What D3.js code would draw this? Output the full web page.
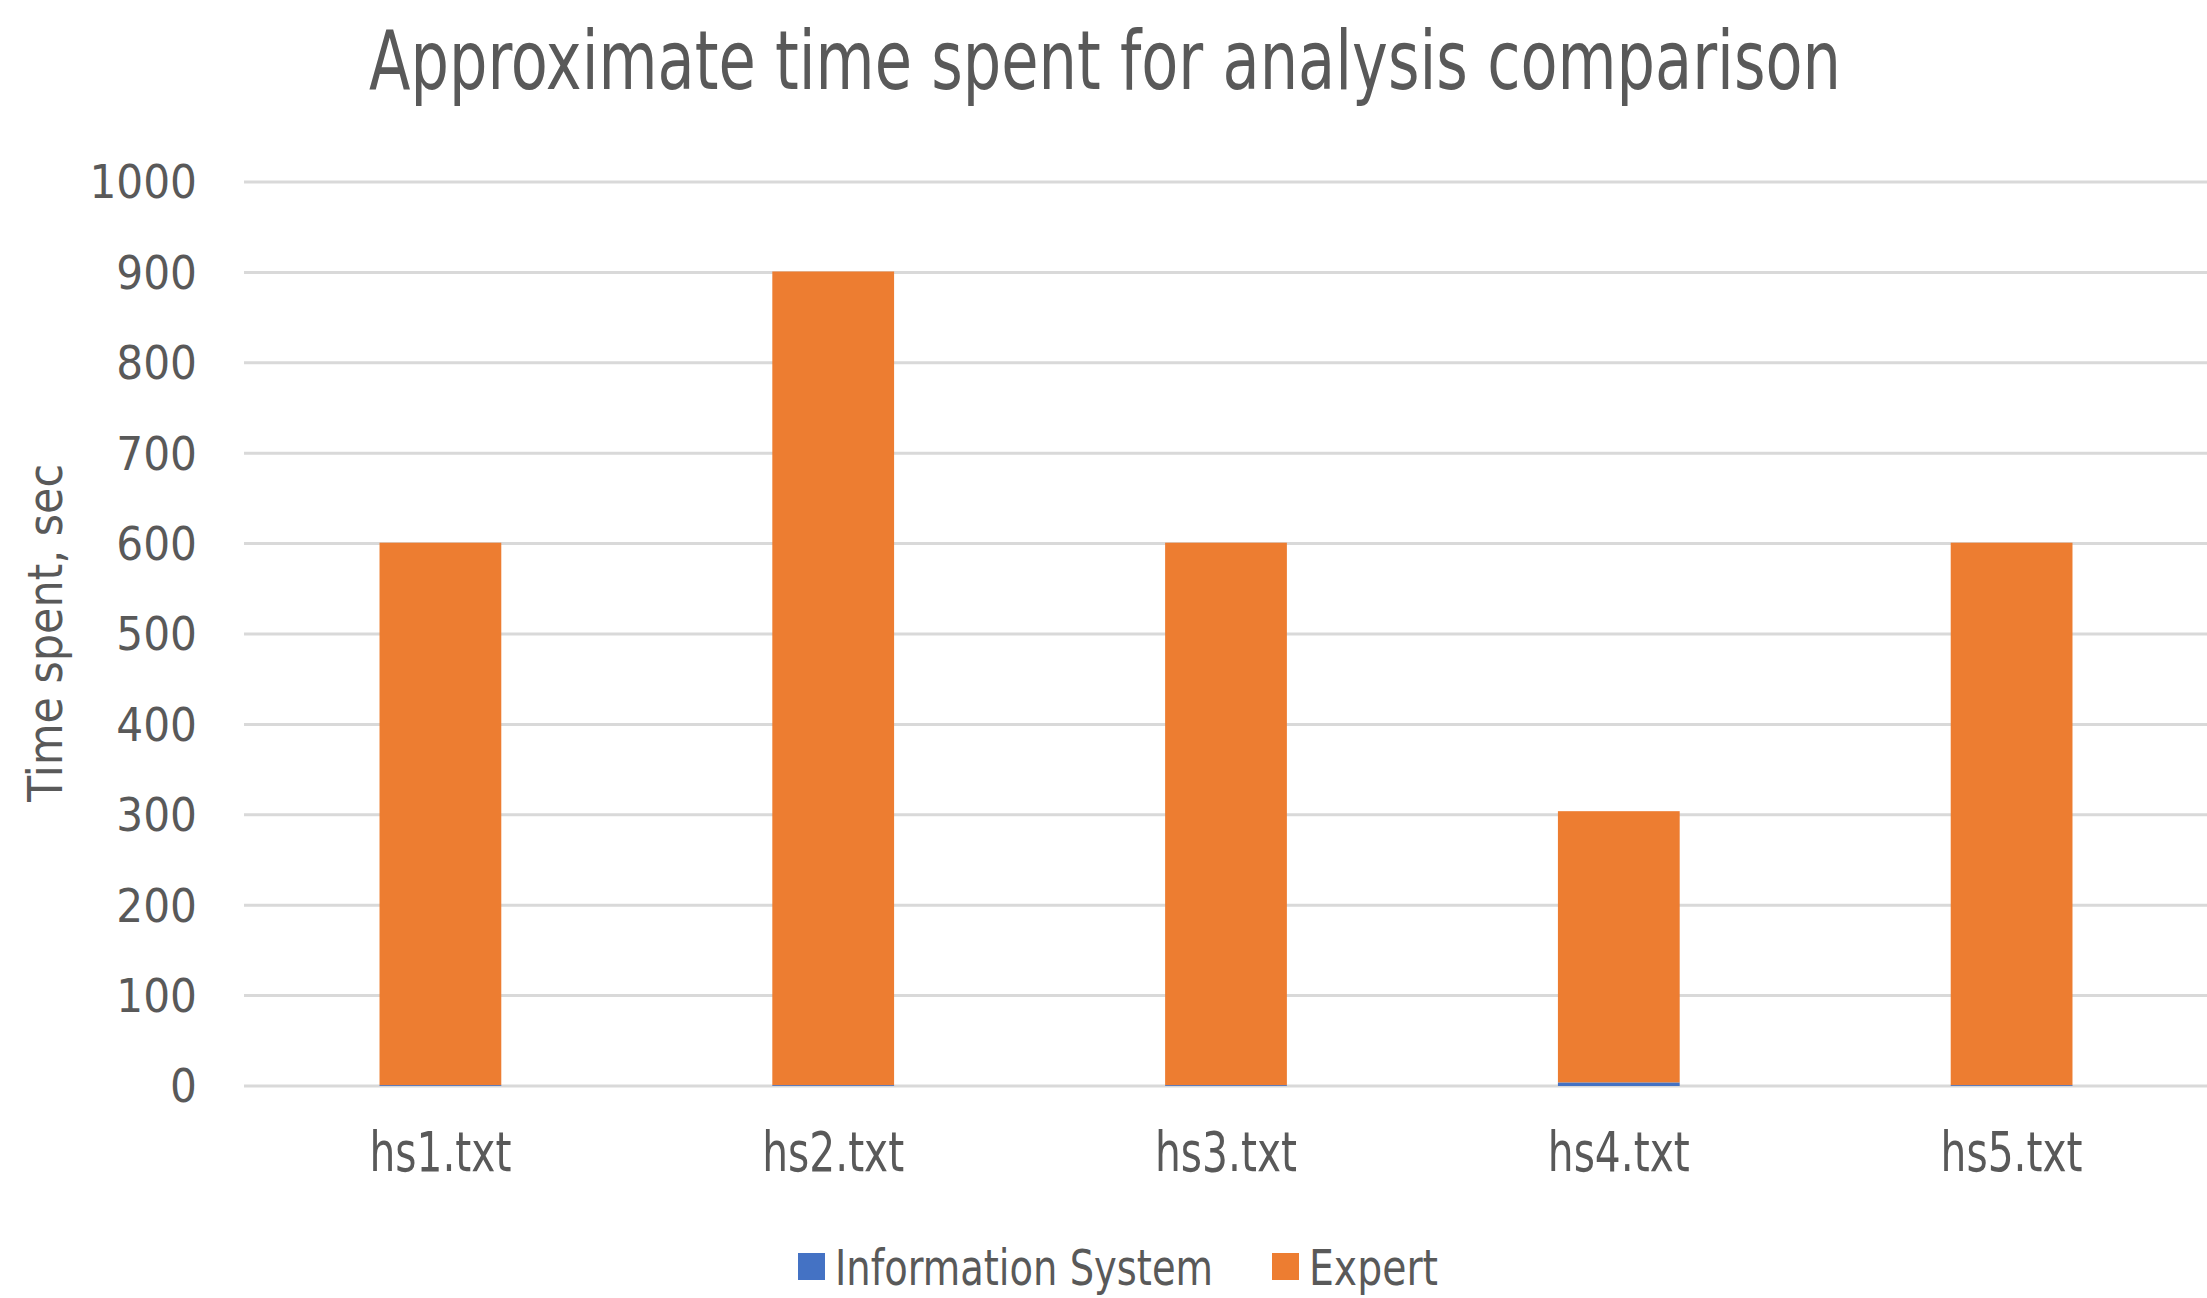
<!DOCTYPE html>
<html lang="en">
  <head>
    <meta charset="UTF-8" />
    <title>Approximate time spent for analysis comparison</title>
    <style>
      body { margin: 0; background: #fff; }
      text { font-family: "Liberation Sans Narrow", "DejaVu Sans Condensed", sans-serif; fill: #595959; }
    </style>
  </head>
  <body>
    <svg id="svg" width="2207" height="1298"></svg>

    <script src="https://cdn.jsdelivr.net/npm/d3@7"></script>
    <script>
      const WIDTH = 2207;
      const HEIGHT = 1298;

      const FILES = ["hs1.txt", "hs2.txt", "hs3.txt", "hs4.txt", "hs5.txt"];
      const INFO_SYSTEM = [1, 1, 1, 4, 1];
      const EXPERT = [600, 900, 600, 300, 600];
      const Y_TICKS = [0, 100, 200, 300, 400, 500, 600, 700, 800, 900, 1000];
      const SERIES = ["Information System", "Expert"];
      const COLORS = ["#4472C4", "#ED7D31"];

      const svg = d3.select("#svg");

      const x = d3
        .scaleBand()
        .domain(FILES)
        .range([244, 2208])
        .paddingInner(0.69)
        .paddingOuter(0.345);

      const y = d3.scaleLinear().domain([0, 1000]).range([1086, 182]);

      // title
      svg
        .append("text")
        .attr("x", 1105)
        .attr("y", 89)
        .attr("text-anchor", "middle")
        .attr("font-size", 82)
        .attr("textLength", 1472)
        .attr("lengthAdjust", "spacingAndGlyphs")
        .text("Approximate time spent for analysis comparison");

      // gridlines
      svg
        .append("g")
        .selectAll("line")
        .data(Y_TICKS)
        .join("line")
        .attr("x1", 244)
        .attr("x2", WIDTH)
        .attr("y1", (d) => y(d))
        .attr("y2", (d) => y(d))
        .attr("stroke", "#d9d9d9")
        .attr("stroke-width", 3);

      // y tick labels
      svg
        .append("g")
        .selectAll("text")
        .data(Y_TICKS)
        .join("text")
        .attr("x", 197)
        .attr("y", (d) => y(d))
        .attr("dy", "0.35em")
        .attr("text-anchor", "end")
        .attr("font-size", 47)
        .text((d) => d);

      // stacked bars
      const rows = FILES.map((f, i) => ({
        file: f,
        "Information System": INFO_SYSTEM[i],
        Expert: EXPERT[i],
      }));
      const stack = d3.stack().keys(SERIES)(rows);

      svg
        .append("g")
        .selectAll("g")
        .data(stack)
        .join("g")
        .attr("fill", (d, i) => COLORS[i])
        .selectAll("rect")
        .data((d) => d)
        .join("rect")
        .attr("x", (d) => x(d.data.file))
        .attr("width", x.bandwidth())
        .attr("y", (d) => y(d[1]))
        .attr("height", (d) => y(d[0]) - y(d[1]));

      // x labels
      svg
        .append("g")
        .selectAll("text")
        .data(FILES)
        .join("text")
        .attr("x", (d) => x(d) + x.bandwidth() / 2)
        .attr("y", 1171)
        .attr("text-anchor", "middle")
        .attr("font-size", 56)
        .attr("textLength", 142)
        .attr("lengthAdjust", "spacingAndGlyphs")
        .text((d) => d);

      // y axis title
      svg
        .append("text")
        .attr("transform", "translate(62, 633) rotate(-90)")
        .attr("text-anchor", "middle")
        .attr("font-size", 48)
        .attr("textLength", 338)
        .attr("lengthAdjust", "spacingAndGlyphs")
        .text("Time spent, sec");

      // legend
      const legend = [
        { name: SERIES[0], sx: 798, tx: 835, len: 378 },
        { name: SERIES[1], sx: 1272, tx: 1309, len: 129 },
      ];
      const lg = svg.append("g").selectAll("g").data(legend).join("g");
      lg.append("rect")
        .attr("x", (d) => d.sx)
        .attr("y", 1253)
        .attr("width", 27)
        .attr("height", 27)
        .attr("fill", (d, i) => COLORS[i]);
      lg.append("text")
        .attr("x", (d) => d.tx)
        .attr("y", 1285)
        .attr("font-size", 50)
        .attr("textLength", (d) => d.len)
        .attr("lengthAdjust", "spacingAndGlyphs")
        .text((d) => d.name);
    </script>
  </body>
</html>
